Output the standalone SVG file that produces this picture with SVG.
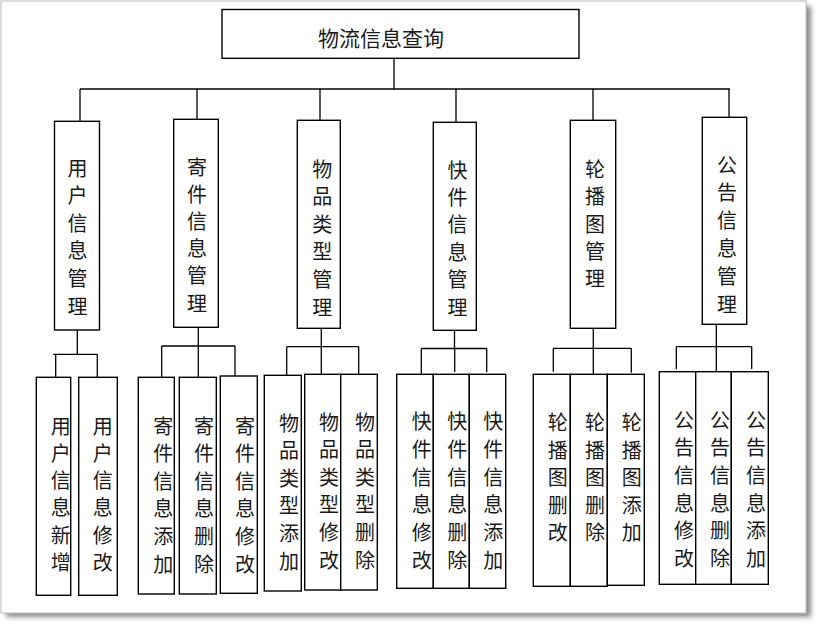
<svg xmlns="http://www.w3.org/2000/svg" width="816" height="625" viewBox="0 0 816 625">
<style>
.box{fill:#fff;stroke:#000;stroke-width:1.4}
.ln{fill:none;stroke:#000;stroke-width:1.3}
.t{font-family:"Noto Sans CJK SC","Noto Sans",sans-serif;font-size:20px;fill:#1a1a1a;text-anchor:middle}
.tt{font-family:"Noto Sans CJK SC","Noto Sans",sans-serif;font-size:21px;fill:#1a1a1a}
</style>
<defs>
<filter id="sh" x="-5%" y="-5%" width="110%" height="110%"><feGaussianBlur stdDeviation="2.5"/></filter>
</defs>
<rect x="0" y="0" width="816" height="625" fill="#fff"/>
<rect x="6" y="6" width="805" height="611" fill="#8a8a8a" filter="url(#sh)"/>
<rect x="1" y="1" width="805" height="612" fill="#fff" stroke="#c4c4c4" stroke-width="1.2"/>

<g id="connectors">
<path class="ln" d="M394 58.3V89M80 89H730M80 89V121.3M197 89V119.3M320 89V120.3M456 89V122.3M593 89V120.3M729 89V117.3"/>
<path class="ln" d="M77.3 330V354.3M53.3 354.3H97.3M55.7 354.3V377.3M97.3 354.3V377.3"/>
<path class="ln" d="M198.3 327.3V346M161.7 346H235M161.7 346V377.3M198.3 346V377.3M235 346V376"/>
<path class="ln" d="M321.3 328.3V346.7M286.7 346.7H358.7M286.7 346.7V375.3M321.3 346.7V374.3M358.7 346.7V374.3"/>
<path class="ln" d="M454.5 330.3V348.5M421.3 348.5H486.7M421.3 348.5V374.3M454.7 348.5V372M486.7 348.5V372.3"/>
<path class="ln" d="M593.3 328.3V348.3M553.3 348.3H631.3M553.3 348.3V371.7M593.3 348.3V374.3M631.3 348.3V372.7"/>
<path class="ln" d="M716.3 324.3V346.7M676.3 346.7H751.7M676.3 346.7V369.3M716.3 346.7V371.7M751.7 346.7V369"/>
</g>

<g id="root">
<rect class="box" x="222" y="9.5" width="357" height="48.8"/>
<text class="tt" x="318" y="46">物流信息查询</text>
</g>

<g id="n1">
<rect class="box" x="54.5" y="121.3" width="45" height="208.7"/>
<text class="t"><tspan x="77.5" y="175.5">用</tspan><tspan x="77.5" y="203.1">户</tspan><tspan x="77.5" y="230.7">信</tspan><tspan x="77.5" y="258.3">息</tspan><tspan x="77.5" y="285.9">管</tspan><tspan x="77.5" y="313.5">理</tspan></text>
</g>
<g id="n2">
<rect class="box" x="173.7" y="119.3" width="44.6" height="208"/>
<text class="t"><tspan x="197" y="174.5">寄</tspan><tspan x="197" y="201.7">件</tspan><tspan x="197" y="228.9">信</tspan><tspan x="197" y="256.1">息</tspan><tspan x="197" y="283.3">管</tspan><tspan x="197" y="310.5">理</tspan></text>
</g>
<g id="n3">
<rect class="box" x="297.3" y="120.3" width="43" height="208"/>
<text class="t"><tspan x="322.3" y="176.5">物</tspan><tspan x="322.3" y="204.1">品</tspan><tspan x="322.3" y="231.7">类</tspan><tspan x="322.3" y="259.3">型</tspan><tspan x="322.3" y="286.9">管</tspan><tspan x="322.3" y="314.5">理</tspan></text>
</g>
<g id="n4">
<rect class="box" x="433.3" y="122.3" width="43" height="208"/>
<text class="t"><tspan x="457.5" y="177.5">快</tspan><tspan x="457.5" y="204.9">件</tspan><tspan x="457.5" y="232.3">信</tspan><tspan x="457.5" y="259.7">息</tspan><tspan x="457.5" y="287.1">管</tspan><tspan x="457.5" y="314.5">理</tspan></text>
</g>
<g id="n5">
<rect class="box" x="570.3" y="120.3" width="45.4" height="208"/>
<text class="t"><tspan x="595" y="176.8">轮</tspan><tspan x="595" y="204.2">播</tspan><tspan x="595" y="231.6">图</tspan><tspan x="595" y="259">管</tspan><tspan x="595" y="286.4">理</tspan></text>
</g>
<g id="n6">
<rect class="box" x="702.3" y="117.3" width="44.4" height="207"/>
<text class="t"><tspan x="727" y="172.5">公</tspan><tspan x="727" y="200.3">告</tspan><tspan x="727" y="228.1">信</tspan><tspan x="727" y="255.9">息</tspan><tspan x="727" y="283.7">管</tspan><tspan x="727" y="311.5">理</tspan></text>
</g>

<g id="l1a">
<rect class="box" x="36.3" y="377.3" width="34.4" height="218"/>
<text class="t"><tspan x="60.7" y="433.5">用</tspan><tspan x="60.7" y="460.8">户</tspan><tspan x="60.7" y="488.1">信</tspan><tspan x="60.7" y="515.4">息</tspan><tspan x="60.7" y="542.7">新</tspan><tspan x="60.7" y="570">增</tspan></text>
</g>
<g id="l1b">
<rect class="box" x="78.7" y="377.3" width="38.6" height="218"/>
<text class="t"><tspan x="102.7" y="433.5">用</tspan><tspan x="102.7" y="460.8">户</tspan><tspan x="102.7" y="488.1">信</tspan><tspan x="102.7" y="515.4">息</tspan><tspan x="102.7" y="542.7">修</tspan><tspan x="102.7" y="570">改</tspan></text>
</g>

<g id="l2a">
<rect class="box" x="138.3" y="377.3" width="36" height="216.7"/>
<text class="t"><tspan x="163.3" y="433.5">寄</tspan><tspan x="163.3" y="461.1">件</tspan><tspan x="163.3" y="488.7">信</tspan><tspan x="163.3" y="516.3">息</tspan><tspan x="163.3" y="543.9">添</tspan><tspan x="163.3" y="571.5">加</tspan></text>
</g>
<g id="l2b">
<rect class="box" x="179.3" y="377.3" width="37" height="216.7"/>
<text class="t"><tspan x="204" y="433.5">寄</tspan><tspan x="204" y="461.1">件</tspan><tspan x="204" y="488.7">信</tspan><tspan x="204" y="516.3">息</tspan><tspan x="204" y="543.9">删</tspan><tspan x="204" y="571.5">除</tspan></text>
</g>
<g id="l2c">
<rect class="box" x="220.3" y="376" width="37" height="217.3"/>
<text class="t"><tspan x="245" y="433.5">寄</tspan><tspan x="245" y="461.1">件</tspan><tspan x="245" y="488.7">信</tspan><tspan x="245" y="516.3">息</tspan><tspan x="245" y="543.9">修</tspan><tspan x="245" y="571.5">改</tspan></text>
</g>

<g id="l3a">
<rect class="box" x="264.3" y="375.3" width="37" height="215.7"/>
<text class="t"><tspan x="289" y="430.5">物</tspan><tspan x="289" y="458.1">品</tspan><tspan x="289" y="485.7">类</tspan><tspan x="289" y="513.3">型</tspan><tspan x="289" y="540.9">添</tspan><tspan x="289" y="568.5">加</tspan></text>
</g>
<g id="l3b">
<rect class="box" x="304.7" y="374.3" width="36" height="215.7"/>
<text class="t"><tspan x="329" y="429.5">物</tspan><tspan x="329" y="457.1">品</tspan><tspan x="329" y="484.7">类</tspan><tspan x="329" y="512.3">型</tspan><tspan x="329" y="539.9">修</tspan><tspan x="329" y="567.5">改</tspan></text>
</g>
<g id="l3c">
<rect class="box" x="340.7" y="374.3" width="36.6" height="215.7"/>
<text class="t"><tspan x="365" y="429.5">物</tspan><tspan x="365" y="457.1">品</tspan><tspan x="365" y="484.7">类</tspan><tspan x="365" y="512.3">型</tspan><tspan x="365" y="539.9">删</tspan><tspan x="365" y="567.5">除</tspan></text>
</g>

<g id="l4a">
<rect class="box" x="396.7" y="374.3" width="36.6" height="214"/>
<text class="t"><tspan x="421.7" y="429.2">快</tspan><tspan x="421.7" y="456.9">件</tspan><tspan x="421.7" y="484.6">信</tspan><tspan x="421.7" y="512.3">息</tspan><tspan x="421.7" y="540">修</tspan><tspan x="421.7" y="567.7">改</tspan></text>
</g>
<g id="l4b">
<rect class="box" x="433.3" y="374.3" width="36" height="214"/>
<text class="t"><tspan x="457.3" y="429.2">快</tspan><tspan x="457.3" y="456.9">件</tspan><tspan x="457.3" y="484.6">信</tspan><tspan x="457.3" y="512.3">息</tspan><tspan x="457.3" y="540">删</tspan><tspan x="457.3" y="567.7">除</tspan></text>
</g>
<g id="l4c">
<rect class="box" x="469.3" y="374.3" width="36.4" height="214"/>
<text class="t"><tspan x="493.3" y="429.2">快</tspan><tspan x="493.3" y="456.9">件</tspan><tspan x="493.3" y="484.6">信</tspan><tspan x="493.3" y="512.3">息</tspan><tspan x="493.3" y="540">添</tspan><tspan x="493.3" y="567.7">加</tspan></text>
</g>

<g id="l5a">
<rect class="box" x="533.3" y="374.3" width="37" height="212"/>
<text class="t"><tspan x="557.7" y="430.2">轮</tspan><tspan x="557.7" y="457.7">播</tspan><tspan x="557.7" y="485.2">图</tspan><tspan x="557.7" y="512.7">删</tspan><tspan x="557.7" y="540.2">改</tspan></text>
</g>
<g id="l5b">
<rect class="box" x="570.3" y="374.3" width="37" height="212"/>
<text class="t"><tspan x="595" y="430.2">轮</tspan><tspan x="595" y="457.7">播</tspan><tspan x="595" y="485.2">图</tspan><tspan x="595" y="512.7">删</tspan><tspan x="595" y="540.2">除</tspan></text>
</g>
<g id="l5c">
<rect class="box" x="607.3" y="374.3" width="37" height="211"/>
<text class="t"><tspan x="631.7" y="430.2">轮</tspan><tspan x="631.7" y="457.7">播</tspan><tspan x="631.7" y="485.2">图</tspan><tspan x="631.7" y="512.7">添</tspan><tspan x="631.7" y="540.2">加</tspan></text>
</g>

<g id="l6a">
<rect class="box" x="659.3" y="371.7" width="36.4" height="212.6"/>
<text class="t"><tspan x="684" y="427.5">公</tspan><tspan x="684" y="455.2">告</tspan><tspan x="684" y="482.9">信</tspan><tspan x="684" y="510.6">息</tspan><tspan x="684" y="538.3">修</tspan><tspan x="684" y="566">改</tspan></text>
</g>
<g id="l6b">
<rect class="box" x="695.7" y="371.7" width="35.6" height="212.6"/>
<text class="t"><tspan x="720" y="427.5">公</tspan><tspan x="720" y="455.2">告</tspan><tspan x="720" y="482.9">信</tspan><tspan x="720" y="510.6">息</tspan><tspan x="720" y="538.3">删</tspan><tspan x="720" y="566">除</tspan></text>
</g>
<g id="l6c">
<rect class="box" x="731.3" y="371.7" width="37" height="212.6"/>
<text class="t"><tspan x="756" y="427.5">公</tspan><tspan x="756" y="455.2">告</tspan><tspan x="756" y="482.9">信</tspan><tspan x="756" y="510.6">息</tspan><tspan x="756" y="538.3">添</tspan><tspan x="756" y="566">加</tspan></text>
</g>
</svg>
